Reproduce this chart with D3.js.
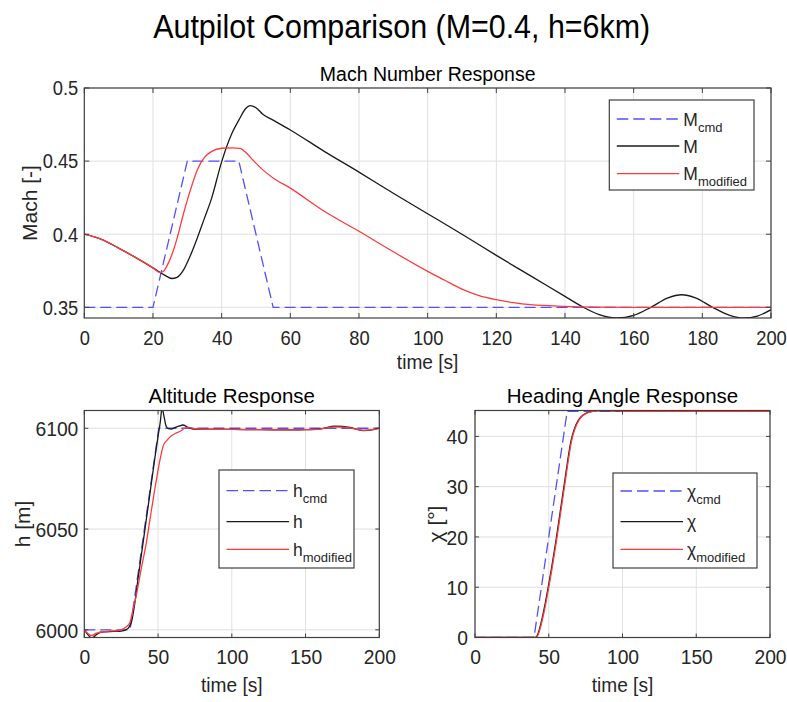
<!DOCTYPE html>
<html lang="en">
<head>
<meta charset="UTF-8">
<title>Autopilot Comparison</title>
<style>
  body { margin: 0; background: #fff; }
  svg text { font-family: "Liberation Sans", Arial, Helvetica, sans-serif; fill: #262626; }
</style>
<script src="https://cdn.jsdelivr.net/npm/d3@7"></script>
</head>
<body>
<svg width="787" height="702"></svg>
<script>
// ---- Mach number response ----
var machCmdT = [0, 20, 30, 45, 55, 200];
var machCmd  = [0.35, 0.35, 0.45, 0.45, 0.35, 0.35];

var machT = [0, 5, 10, 15, 20, 22, 24, 25.5, 27, 29, 31, 33, 35, 37, 40, 43, 45, 47, 48.3, 50, 52, 55, 60, 70, 80, 90, 100, 110, 120, 130, 140, 145, 150, 155, 160, 165, 170, 174, 178, 183, 188, 192, 196, 200];
var mach  = [0.400, 0.3965, 0.3905, 0.3840, 0.3770, 0.3740, 0.3712, 0.3697, 0.3705, 0.3760, 0.3860, 0.3980, 0.4110, 0.4240, 0.4495, 0.4690, 0.4780, 0.4860, 0.4880, 0.4865, 0.4820, 0.4780, 0.4713, 0.4565, 0.4425, 0.4280, 0.4140, 0.4000, 0.3855, 0.3715, 0.3575, 0.3505, 0.3450, 0.3427, 0.3445, 0.3500, 0.3565, 0.3586, 0.3565, 0.3500, 0.3445, 0.3427, 0.3440, 0.3484];

var machModT = [0, 5, 10, 15, 20, 22, 23, 24, 25.5, 27, 29, 31, 33, 35, 37, 40, 43, 45.5, 47, 49, 52, 55, 60, 70, 80, 90, 100, 105, 110, 115, 120, 125, 130, 140, 150, 160, 200];
var machMod  = [0.400, 0.3965, 0.3905, 0.3840, 0.3770, 0.3738, 0.3745, 0.3780, 0.3860, 0.3970, 0.4150, 0.4310, 0.4445, 0.4525, 0.4565, 0.4588, 0.4590, 0.4585, 0.4560, 0.4510, 0.4440, 0.4385, 0.4315, 0.4155, 0.4020, 0.3880, 0.3746, 0.3685, 0.3625, 0.3580, 0.3552, 0.3532, 0.3518, 0.3507, 0.3502, 0.3500, 0.3500];

// ---- Altitude response ----
var altCmdT = [0, 31, 50.5, 200];
var altCmd  = [6000, 6000, 6100, 6100];

var altT = [0, 2, 5, 8, 11, 15, 20, 25, 28, 30, 32, 34, 36, 40, 44, 48, 50, 51.5, 52.7, 54, 55.5, 57, 59, 61, 64, 67, 70, 74, 80, 100, 120, 140, 150, 160, 170, 180, 189, 195, 200];
var alt  = [6000, 5998, 5996, 5997.5, 5998.8, 5999, 5999.2, 5999.4, 6000, 6001, 6004, 6012, 6023, 6044, 6065, 6086, 6096, 6103, 6110, 6106, 6101, 6099.8, 6099.6, 6100.2, 6101, 6101.6, 6100.5, 6099.6, 6099.5, 6099.4, 6099.3, 6099.2, 6099.3, 6099.7, 6101, 6100.4, 6098.8, 6099.2, 6100];

var altModT = [0, 2, 5, 8, 11, 15, 20, 24, 27, 29, 31, 33, 35.5, 38, 42.3, 45, 49, 51.5, 53.6, 56, 59.3, 62, 65, 68, 70, 75, 80, 100, 120, 140, 150, 160, 170, 180, 189, 195, 200];
var altMod  = [6000, 5998.5, 5997.2, 5998.2, 5998.8, 5999.2, 5999.5, 5999.7, 6000.8, 6001.8, 6003.8, 6010, 6018, 6028, 6044.3, 6057, 6075, 6085, 6091.5, 6094, 6096.4, 6097.5, 6098.5, 6100, 6100.3, 6099.8, 6099.5, 6099.4, 6099.3, 6099.2, 6099.3, 6099.6, 6100.7, 6100.2, 6099, 6099.3, 6100];

// ---- Heading angle response ----
var chiCmdT = [0, 40, 62.5, 200];
var chiCmd  = [0, 0, 45, 45];

var chiT = [0, 41, 42.5, 44, 46, 48, 50, 52, 55, 58, 61, 63, 65, 67, 70, 73, 76, 80, 84, 90, 100, 200];
var chi  = [0, 0, 0.6, 2.0, 4.5, 7.4, 10.6, 14, 19.5, 25.5, 31.5, 35.5, 39, 41.2, 43.2, 44.2, 44.7, 45.0, 45.15, 45.1, 45.0, 45.0];

var chiModT = [0, 41.4, 42.9, 44.4, 46.4, 48.4, 50.4, 52.4, 55.4, 58.4, 61.4, 63.4, 65.4, 67.4, 70.4, 73.4, 76.4, 80.4, 84.4, 90.4, 100, 200];
var chiMod  = [0, 0, 0.6, 2.0, 4.5, 7.4, 10.6, 14, 19.5, 25.5, 31.5, 35.5, 39, 41.2, 43.2, 44.2, 44.7, 45.0, 45.15, 45.1, 45.0, 45.0];

// tick values
var machXTicks = [0, 20, 40, 60, 80, 100, 120, 140, 160, 180, 200];
var machYTicks = [0.35, 0.4, 0.45, 0.5];
var smallXTicks = [0, 50, 100, 150, 200];
var altYTicks = [6000, 6050, 6100];
var chiYTicks = [0, 10, 20, 30, 40];

var blue = "#5050ff", black = "#1a1a1a", red = "#ff3a3a";

var svg = d3.select("svg");

// squeeze text horizontally (the original font is a little narrower than Arial)
function squeeze(sel, sx) {
  sel.each(function() {
    var t = d3.select(this);
    var x = +t.attr("x") || 0;
    t.attr("x", x / sx).attr("transform", "scale(" + sx + ",1)");
  });
}

svg.append("text")
    .attr("x", 401.7).attr("y", 38.3)
    .attr("text-anchor", "middle")
    .attr("textLength", 497).attr("lengthAdjust", "spacingAndGlyphs")
    .style("font-size", "34px").style("fill", "#000")
    .text("Autpilot Comparison (M=0.4, h=6km)");

var clipId = 0;

function panel(opt) {
  var x = d3.scaleLinear().domain(opt.xDomain).range([opt.left, opt.right]);
  var y = d3.scaleLinear().domain(opt.yDomain).range([opt.bottom, opt.top]);
  var g = svg.append("g");

  // grid
  g.selectAll(".gx").data(opt.xTicks).enter().append("line")
      .attr("x1", d => x(d)).attr("x2", d => x(d))
      .attr("y1", opt.top).attr("y2", opt.bottom)
      .attr("stroke", "#e0e0e0").attr("stroke-width", 1);
  g.selectAll(".gy").data(opt.yTicks).enter().append("line")
      .attr("x1", opt.left).attr("x2", opt.right)
      .attr("y1", d => y(d)).attr("y2", d => y(d))
      .attr("stroke", "#e0e0e0").attr("stroke-width", 1);

  // lines, clipped to the axes box
  var id = "clip" + (clipId++);
  svg.append("clipPath").attr("id", id).append("rect")
      .attr("x", opt.left).attr("y", opt.top)
      .attr("width", opt.right - opt.left).attr("height", opt.bottom - opt.top);
  var lines = g.append("g").attr("clip-path", "url(#" + id + ")");
  opt.series.forEach(function(s) {
    var pts = s.t.map((t, i) => [t, s.v[i]]);
    var line = d3.line().x(d => x(d[0])).y(d => y(d[1]))
        .curve(s.dash ? d3.curveLinear : d3.curveMonotoneX);
    lines.append("path").datum(pts)
        .attr("d", line)
        .attr("fill", "none")
        .attr("stroke", s.color)
        .attr("stroke-width", 1.3)
        .attr("stroke-dasharray", s.dash ? "11,5" : null);
  });

  // axes: ticks inward on all four sides
  var tl = opt.tickLen;
  var axB = d3.axisBottom(x).tickValues(opt.xTicks).tickSize(0).tickFormat(d3.format("d"));
  var axL = d3.axisLeft(y).tickValues(opt.yTicks).tickSize(0).tickPadding(opt.yPad).tickFormat(opt.yFormat);
  var gb = g.append("g").attr("transform", "translate(0," + opt.bottom + ")").call(axB);
  var gl = g.append("g").attr("transform", "translate(" + opt.left + ",0)").call(axL);
  [gb, gl].forEach(function(a) {
    a.select(".domain").remove();
    a.selectAll("text").style("font-size", opt.tickFont + "px").style("fill", "#262626")
        .attr("font-family", null);
  });
  gb.selectAll("text").attr("y", opt.xBase).attr("dy", 0);
  gl.selectAll("text").attr("dy", "0.35em");
  squeeze(gb.selectAll("text"), 0.94);
  squeeze(gl.selectAll("text"), 0.94);

  var tk = g.append("g").attr("stroke", "#404040").attr("stroke-width", 1);
  opt.xTicks.forEach(function(d) {
    tk.append("line").attr("x1", x(d)).attr("x2", x(d)).attr("y1", opt.bottom).attr("y2", opt.bottom - tl);
    tk.append("line").attr("x1", x(d)).attr("x2", x(d)).attr("y1", opt.top).attr("y2", opt.top + tl);
  });
  opt.yTicks.forEach(function(d) {
    tk.append("line").attr("y1", y(d)).attr("y2", y(d)).attr("x1", opt.left).attr("x2", opt.left + tl);
    tk.append("line").attr("y1", y(d)).attr("y2", y(d)).attr("x1", opt.right).attr("x2", opt.right - tl);
  });
  g.append("rect")
      .attr("x", opt.left).attr("y", opt.top)
      .attr("width", opt.right - opt.left).attr("height", opt.bottom - opt.top)
      .attr("fill", "none").attr("stroke", "#404040").attr("stroke-width", 1.2);

  // title and labels
  g.append("text")
      .attr("x", (opt.left + opt.right) / 2).attr("y", opt.titleY)
      .attr("text-anchor", "middle").style("font-size", opt.titleFont + "px").style("fill", "#000")
      .text(opt.title);
  var xl = g.append("text")
      .attr("x", (opt.left + opt.right) / 2).attr("y", opt.xLabelY)
      .attr("text-anchor", "middle").style("font-size", "21px")
      .text("time [s]");
  squeeze(xl, 0.91);
  g.append("text")
      .attr("transform", "translate(" + opt.yLabelX + "," + ((opt.top + opt.bottom) / 2) + ") rotate(-90)")
      .attr("text-anchor", "middle").style("font-size", "21px")
      .text(opt.yLabel);

  // legend
  var L = opt.legend;
  var lg = g.append("g");
  lg.append("rect").attr("x", L.x).attr("y", L.y).attr("width", L.w).attr("height", L.h)
      .attr("fill", "#fff").attr("stroke", "#404040").attr("stroke-width", 1.2);
  opt.series.forEach(function(s, i) {
    var ly = L.rows[i];
    lg.append("line").attr("x1", L.x + 7.5).attr("x2", L.x + 70).attr("y1", ly).attr("y2", ly)
        .attr("stroke", s.color).attr("stroke-width", 1.3)
        .attr("stroke-dasharray", s.dash ? "11.5,5" : null);
    var t = lg.append("text").attr("x", L.x + 74).attr("y", ly + 6.5).style("font-size", "17.5px");
    t.append("tspan").text(s.name);
    if (s.sub) {
      t.append("tspan").attr("dy", 6).style("font-size", "13px").text(s.sub);
    }
  });

  return { x: x, y: y };
}

panel({
  left: 84.3, right: 771, top: 88, bottom: 318,
  xDomain: [0, 200], yDomain: [0.3427, 0.5],
  xTicks: machXTicks, yTicks: machYTicks,
  yFormat: d => String(d),
  tickLen: 5, tickFont: 19.5, xBase: 27, yPad: 6,
  title: "Mach Number Response", titleFont: 19.5, titleY: 80.5,
  xLabelY: 369, yLabel: "Mach [-]", yLabelX: 36.5,
  series: [
    { t: machCmdT, v: machCmd, color: blue, dash: true, name: "M", sub: "cmd" },
    { t: machT, v: mach, color: black, name: "M" },
    { t: machModT, v: machMod, color: red, name: "M", sub: "modified" }
  ],
  legend: { x: 609.3, y: 100, w: 144.7, h: 90, rows: [119, 146, 173.7] }
});

panel({
  left: 84.3, right: 379.3, top: 410.5, bottom: 637.5,
  xDomain: [0, 200], yDomain: [5996.2, 6108.8],
  xTicks: smallXTicks, yTicks: altYTicks,
  yFormat: d3.format("d"),
  tickLen: 4, tickFont: 20.5, xBase: 26.5, yPad: 6,
  title: "Altitude Response", titleFont: 20.5, titleY: 402.5,
  xLabelY: 692, yLabel: "h [m]", yLabelX: 30,
  series: [
    { t: altCmdT, v: altCmd, color: blue, dash: true, name: "h", sub: "cmd" },
    { t: altT, v: alt, color: black, name: "h" },
    { t: altModT, v: altMod, color: red, name: "h", sub: "modified" }
  ],
  legend: { x: 219, y: 470, w: 135, h: 98, rows: [490.7, 521.7, 549.3] }
});

panel({
  left: 475, right: 770, top: 410.5, bottom: 637.5,
  xDomain: [0, 200], yDomain: [0, 45.15],
  xTicks: smallXTicks, yTicks: chiYTicks,
  yFormat: d3.format("d"),
  tickLen: 4, tickFont: 20.5, xBase: 26.5, yPad: 7,
  title: "Heading Angle Response", titleFont: 20.5, titleY: 402.5,
  xLabelY: 692, yLabel: "\u03c7 [\u00b0]", yLabelX: 443,
  series: [
    { t: chiCmdT, v: chiCmd, color: blue, dash: true, name: "\u03c7", sub: "cmd" },
    { t: chiT, v: chi, color: black, name: "\u03c7" },
    { t: chiModT, v: chiMod, color: red, name: "\u03c7", sub: "modified" }
  ],
  legend: { x: 613, y: 473, w: 144, h: 95, rows: [491, 521.7, 549.3] }
});
</script>
</body>
</html>
